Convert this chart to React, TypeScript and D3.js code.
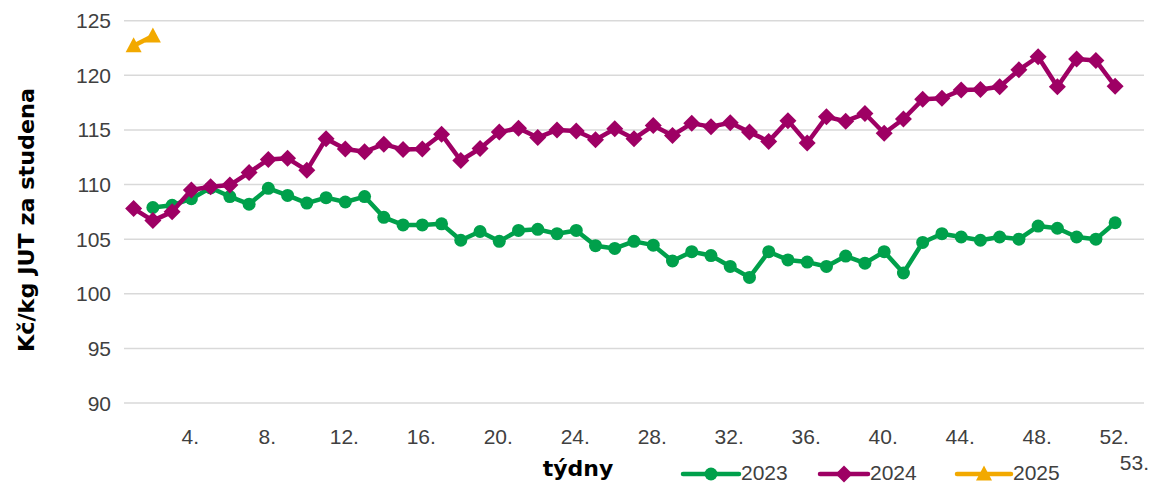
import React from "react";
import * as d3 from "d3";

// weekly prices, Kč/kg JUT za studena
const weeks = d3.range(1, 54);

const values2023 = [
  null, 107.9, 108.1, 108.7, 109.7, 108.9, 108.2, 109.65, 109.0, 108.3,
  108.8, 108.4, 108.9, 107.0, 106.3, 106.3, 106.4, 104.9, 105.7, 104.8,
  105.8, 105.9, 105.5, 105.8, 104.4, 104.15, 104.8, 104.45, 103.0, 103.85,
  103.5, 102.5, 101.5, 103.85, 103.1, 102.9, 102.5, 103.45, 102.8, 103.85,
  101.9, 104.7, 105.5, 105.2, 104.9, 105.2, 105.0, 106.2, 106.0, 105.2,
  105.0, 106.5,
];

const values2024 = [
  107.8, 106.7, 107.5, 109.5, 109.8, 109.95, 111.1, 112.3, 112.4, 111.3,
  114.2, 113.25, 113.0, 113.7, 113.2, 113.25, 114.6, 112.2, 113.3, 114.8,
  115.15, 114.3, 115.0, 114.9, 114.1, 115.1, 114.2, 115.4, 114.5, 115.6,
  115.3, 115.65, 114.8, 113.95, 115.85, 113.8, 116.2, 115.8, 116.5, 114.7,
  116.0, 117.8, 117.9, 118.65, 118.7, 118.95, 120.5, 121.7, 118.95, 121.5,
  121.35, 119.0,
];

const values2025 = [122.7, 123.6];

const yTicks = [90, 95, 100, 105, 110, 115, 120, 125];
const xTickWeeks = [4, 8, 12, 16, 20, 24, 28, 32, 36, 40, 44, 48, 52];
const lastWeek = 53;

const series = [
  { name: "2023", values: values2023, color: "#00A04B", marker: "circle" },
  { name: "2024", values: values2024, color: "#9E0064", marker: "diamond" },
  { name: "2025", values: values2025, color: "#F2A900", marker: "triangle" },
];

const width = 1151;
const height = 484;
const tickFont = "'Liberation Sans', Arial, sans-serif";
const titleFont = "'DejaVu Sans', sans-serif";

const Marker = ({ type, x, y, color }) => {
  if (type === "circle") return <circle cx={x} cy={y} r={6.5} fill={color} />;
  if (type === "diamond") {
    const s = 8.5;
    return (
      <path
        d={`M${x},${y - s}L${x + s},${y}L${x},${y + s}L${x - s},${y}Z`}
        fill={color}
      />
    );
  }
  return (
    <path
      d={`M${x},${y - 8.5}L${x + 8},${y + 6.5}L${x - 8},${y + 6.5}Z`}
      fill={color}
    />
  );
};

export default function App() {
  const margins = { top: 20.7, right: 7, bottom: 81, left: 124 };

  const xScale = d3
    .scaleBand()
    .domain(weeks)
    .range([margins.left, width - margins.right]);
  const xCenter = (w) => xScale(w) + xScale.bandwidth() / 2;

  const yScale = d3
    .scaleLinear()
    .domain([90, 125])
    .range([height - margins.bottom, margins.top]);

  const line = d3
    .line()
    .defined((d) => d.v != null)
    .x((d) => xCenter(d.w))
    .y((d) => yScale(d.v));

  const legend = [
    { x1: 683, x2: 739, tx: 741 },
    { x1: 820, x2: 868, tx: 870 },
    { x1: 957, x2: 1011, tx: 1013 },
  ];

  return (
    <svg
      width={width}
      height={height}
      style={{ position: "absolute", left: 0, top: 0, background: "#fff" }}
    >
      {/* gridlines */}
      <g>
        {yTicks.map((t) => (
          <line
            key={t}
            x1={margins.left}
            x2={width - margins.right}
            y1={yScale(t)}
            y2={yScale(t)}
            stroke="#D9D9D9"
            strokeWidth={1.5}
          />
        ))}
      </g>

      {/* y tick labels */}
      <g fontFamily={tickFont} fontSize={21} fill="#404040" textAnchor="end">
        {yTicks.map((t) => (
          <text key={t} x={111} y={yScale(t) + 7.5}>
            {t}
          </text>
        ))}
      </g>

      {/* x tick labels */}
      <g fontFamily={tickFont} fontSize={21} fill="#404040" textAnchor="middle">
        {xTickWeeks.map((w) => (
          <text key={w} x={xCenter(w) - 1} y={443.5}>
            {w}.
          </text>
        ))}
        <text x={xCenter(lastWeek)} y={469.5}>
          {lastWeek}.
        </text>
      </g>

      {/* axis titles */}
      <text
        transform={`translate(34, 220) rotate(-90)`}
        textAnchor="middle"
        fontFamily={titleFont}
        fontWeight="bold"
        fontSize={21}
        fill="#000"
        textLength={264}
        lengthAdjust="spacingAndGlyphs"
      >
        Kč/kg JUT za studena
      </text>
      <text
        x={578}
        y={476}
        textAnchor="middle"
        fontFamily={titleFont}
        fontWeight="bold"
        fontSize={22}
        fill="#000"
      >
        týdny
      </text>

      {/* series */}
      {series.map((s) => {
        const pts = s.values.map((v, i) => ({ w: weeks[i], v }));
        return (
          <g key={s.name}>
            <path
              d={line(pts)}
              fill="none"
              stroke={s.color}
              strokeWidth={4.5}
              strokeLinejoin="round"
            />
            {pts
              .filter((d) => d.v != null)
              .map((d) => (
                <Marker
                  key={d.w}
                  type={s.marker}
                  x={xCenter(d.w)}
                  y={yScale(d.v)}
                  color={s.color}
                />
              ))}
          </g>
        );
      })}

      {/* legend */}
      <g fontFamily={tickFont} fontSize={21} fill="#404040">
        {series.map((s, i) => {
          const l = legend[i];
          return (
            <g key={s.name}>
              <line
                x1={l.x1}
                x2={l.x2}
                y1={474}
                y2={474}
                stroke={s.color}
                strokeWidth={4.5}
                strokeLinecap="round"
              />
              <Marker
                type={s.marker}
                x={(l.x1 + l.x2) / 2}
                y={474}
                color={s.color}
              />
              <text x={l.tx} y={480}>
                {s.name}
              </text>
            </g>
          );
        })}
      </g>
    </svg>
  );
}
